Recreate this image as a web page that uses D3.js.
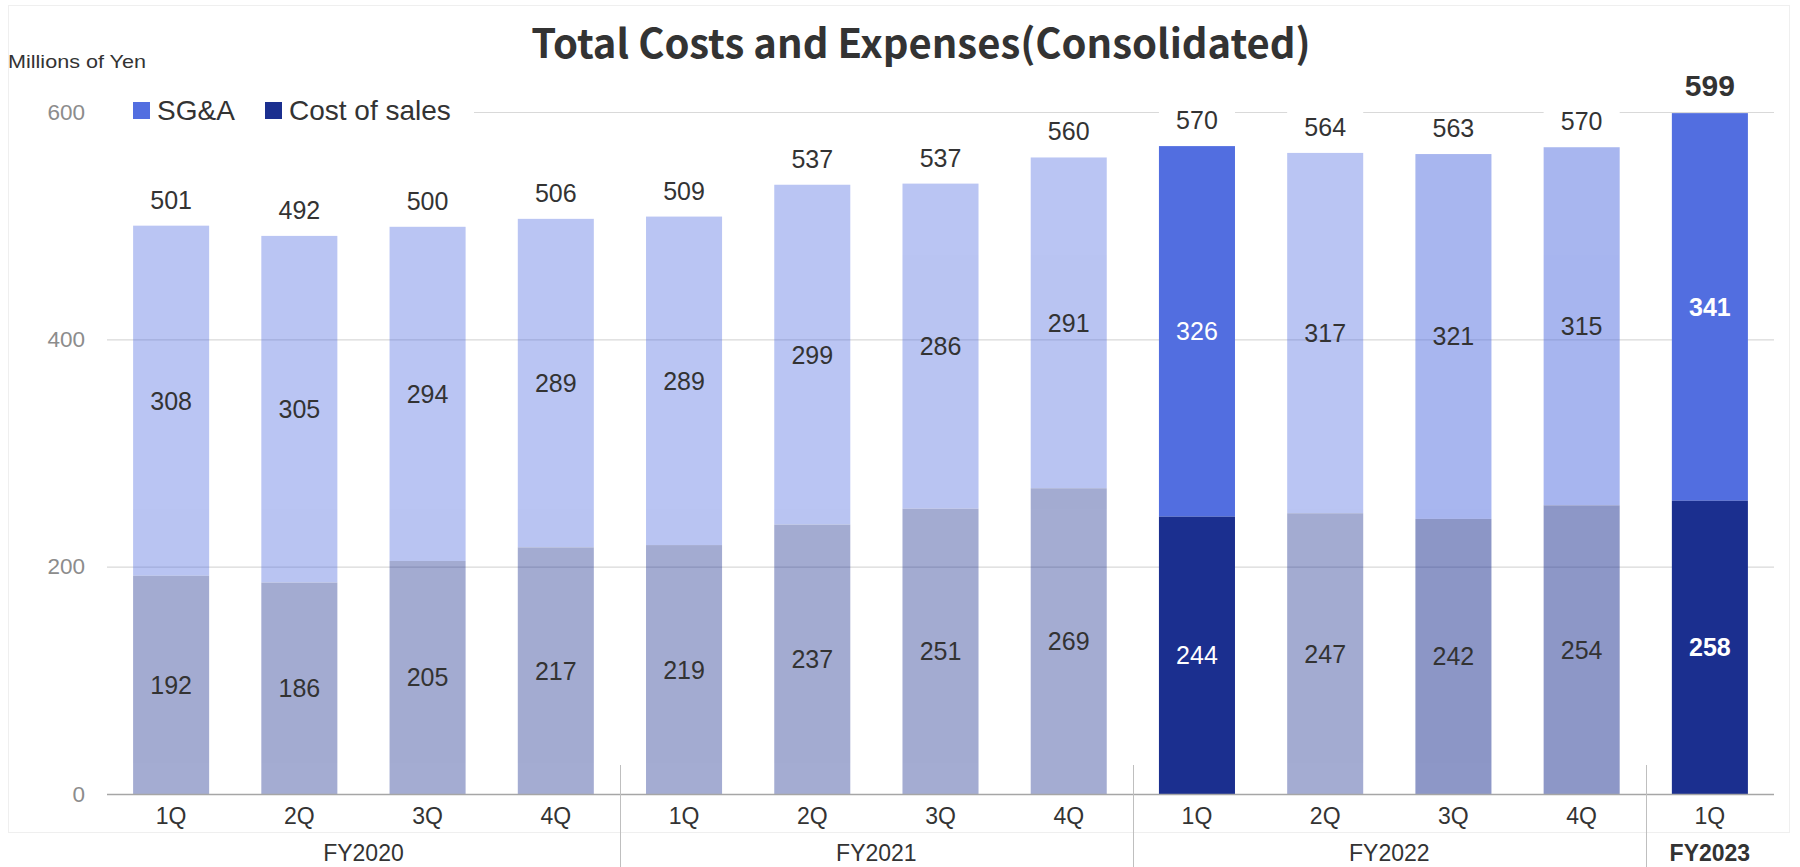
<!DOCTYPE html>
<html>
<head>
<meta charset="utf-8">
<script src="https://cdn.jsdelivr.net/npm/d3@7"></script>
<style>
  html, body { margin: 0; padding: 0; background: #ffffff; }
  svg { display: block; }
  text { font-family: "Liberation Sans", Arial, sans-serif; }
</style>
</head>
<body>
<svg id="chart" width="1800" height="867"></svg>
<script>
// Quarterly costs, millions of yen
const quarters = ["1Q", "2Q", "3Q", "4Q", "1Q", "2Q", "3Q", "4Q", "1Q", "2Q", "3Q", "4Q", "1Q"];
const fiscalYears = ["FY2020", "FY2021", "FY2022", "FY2023"];
const quartersPerYear = [4, 4, 4, 1];
const costOfSales = [192, 186, 205, 217, 219, 237, 251, 269, 244, 247, 242, 254, 258];
const sgaValues = [308, 305, 294, 289, 289, 299, 286, 291, 326, 317, 321, 315, 341];
const totals = [501, 492, 500, 506, 509, 537, 537, 560, 570, 564, 563, 570, 599];
const yTicks = [0, 200, 400, 600];

// Emphasis per bar: highlighted quarters are opaque, the rest are faded
const barOpacity = [0.4, 0.4, 0.4, 0.4, 0.4, 0.4, 0.4, 0.4, 1, 0.4, 0.5, 0.5, 1];
const COLOR_SGA = "#526ee0";
const COLOR_COST = "#1b2f8f";
const TEXT_DARK = "#333333";

const svg = d3.select("#chart");
const W = 1800, H = 867;
const plot = { left: 107, right: 1774, top: 112, bottom: 794 };

const idx = d3.range(quarters.length);
const x = d3.scaleBand()
  .domain(idx)
  .range([plot.left, plot.right])
  .paddingInner(0.407)
  .paddingOuter(0.2035);

const y = d3.scaleLinear().domain([0, 600]).range([plot.bottom, plot.top]);

// outer frame
svg.append("rect")
  .attr("x", 8.5).attr("y", 5.5)
  .attr("width", 1781).attr("height", 827)
  .attr("fill", "none").attr("stroke", "#efefef");

// title
svg.append("text")
  .attr("x", 921).attr("y", 58)
  .attr("text-anchor", "middle")
  .style("font-family", "'Noto Sans CJK JP', 'Noto Sans', sans-serif")
  .style("font-weight", 700)
  .style("font-size", "40px")
  .attr("fill", TEXT_DARK)
  .text("Total Costs and Expenses(Consolidated)");

// unit label
svg.append("text")
  .attr("x", 8).attr("y", 68)
  .style("font-size", "19px")
  .attr("textLength", 138)
  .attr("lengthAdjust", "spacingAndGlyphs")
  .attr("fill", TEXT_DARK)
  .text("Millions of Yen");

// gridlines
svg.append("g")
  .selectAll("line")
  .data(yTicks.filter(d => d > 0))
  .join("line")
  .attr("x1", plot.left).attr("x2", plot.right)
  .attr("y1", d => y(d) + 0.5).attr("y2", d => y(d) + 0.5)
  .attr("stroke", "#d9d9d9").attr("stroke-width", 1.2);

// y axis labels
const yAxis = d3.axisLeft(y).tickValues(yTicks).tickSize(0).tickPadding(0);
svg.append("g")
  .attr("transform", `translate(85,0)`)
  .call(yAxis)
  .call(g => g.select(".domain").remove())
  .call(g => g.selectAll("text")
    .style("font-family", "'Liberation Sans', Arial, sans-serif")
    .style("font-size", "22.5px")
    .attr("fill", "#8c8c8c"));

// stacked bars
const bars = svg.append("g");
idx.forEach(i => {
  const g = bars.append("g").attr("opacity", barOpacity[i]);
  g.append("rect")
    .attr("x", x(i)).attr("width", x.bandwidth())
    .attr("y", y(costOfSales[i] + sgaValues[i]))
    .attr("height", y(costOfSales[i]) - y(costOfSales[i] + sgaValues[i]))
    .attr("fill", COLOR_SGA);
  g.append("rect")
    .attr("x", x(i)).attr("width", x.bandwidth())
    .attr("y", y(costOfSales[i]))
    .attr("height", y(0) - y(costOfSales[i]))
    .attr("fill", COLOR_COST);
});

// x axis baseline
svg.append("line")
  .attr("x1", plot.left).attr("x2", plot.right)
  .attr("y1", plot.bottom + 0.5).attr("y2", plot.bottom + 0.5)
  .attr("stroke", "#a6a6a6").attr("stroke-width", 1.5);

// fiscal-year separators and labels
let start = 0;
const groups = fiscalYears.map((fy, k) => {
  const g = { fy, first: start, last: start + quartersPerYear[k] - 1 };
  start += quartersPerYear[k];
  return g;
});
const step = x.step();
groups.slice(1).forEach(g => {
  const sx = Math.round(x(g.first) - (step - x.bandwidth()) / 2) + 0.5;
  svg.append("line")
    .attr("x1", sx).attr("x2", sx)
    .attr("y1", 765).attr("y2", H)
    .attr("stroke", "#bfbfbf").attr("stroke-width", 1);
});
groups.forEach((g, k) => {
  const x0 = x(g.first) - (step - x.bandwidth()) / 2;
  const x1 = x(g.last) + x.bandwidth() + (step - x.bandwidth()) / 2;
  svg.append("text")
    .attr("x", (x0 + x1) / 2).attr("y", 861)
    .attr("text-anchor", "middle")
    .style("font-size", "23px")
    .style("font-weight", k === fiscalYears.length - 1 ? 700 : 400)
    .attr("fill", TEXT_DARK)
    .text(g.fy);
});

// quarter labels
svg.append("g").selectAll("text")
  .data(idx)
  .join("text")
  .attr("x", i => x(i) + x.bandwidth() / 2)
  .attr("y", 824)
  .attr("text-anchor", "middle")
  .style("font-size", "23px")
  .attr("fill", TEXT_DARK)
  .text(i => quarters[i]);

// total labels with white backing
const last = quarters.length - 1;
idx.forEach(i => {
  const top = y(costOfSales[i] + sgaValues[i]);
  const cy = top - 27;
  svg.append("rect")
    .attr("x", x(i)).attr("width", x.bandwidth())
    .attr("y", cy - 14).attr("height", 28)
    .attr("fill", "#ffffff");
  svg.append("text")
    .attr("x", x(i) + x.bandwidth() / 2)
    .attr("y", top - 17)
    .attr("text-anchor", "middle")
    .style("font-size", i === last ? "30px" : "25px")
    .style("font-weight", i === last ? 700 : 400)
    .attr("fill", TEXT_DARK)
    .text(totals[i]);
});

// segment labels
idx.forEach(i => {
  const solid = barOpacity[i] === 1;
  const fill = solid ? "#ffffff" : TEXT_DARK;
  const weight = i === last ? 700 : 400;
  const sgaMid = (y(costOfSales[i] + sgaValues[i]) + y(costOfSales[i])) / 2;
  const costMid = (y(costOfSales[i]) + y(0)) / 2;
  svg.append("text")
    .attr("x", x(i) + x.bandwidth() / 2).attr("y", sgaMid + 9)
    .attr("text-anchor", "middle")
    .style("font-size", "25px").style("font-weight", weight)
    .attr("fill", fill).text(sgaValues[i]);
  svg.append("text")
    .attr("x", x(i) + x.bandwidth() / 2).attr("y", costMid + 9)
    .attr("text-anchor", "middle")
    .style("font-size", "25px").style("font-weight", weight)
    .attr("fill", fill).text(costOfSales[i]);
});

// legend
const legend = svg.append("g");
legend.append("rect")
  .attr("x", plot.left).attr("y", 96).attr("width", 367).attr("height", 30)
  .attr("fill", "#ffffff");
const legendItems = [
  { label: "SG&A", color: COLOR_SGA, x: 133 },
  { label: "Cost of sales", color: COLOR_COST, x: 265 }
];
legendItems.forEach(d => {
  legend.append("rect")
    .attr("x", d.x).attr("y", 102).attr("width", 17).attr("height", 17)
    .attr("fill", d.color);
  legend.append("text")
    .attr("x", d.x + 24).attr("y", 120)
    .style("font-size", "28px")
    .attr("fill", TEXT_DARK)
    .text(d.label);
});
</script>
</body>
</html>
